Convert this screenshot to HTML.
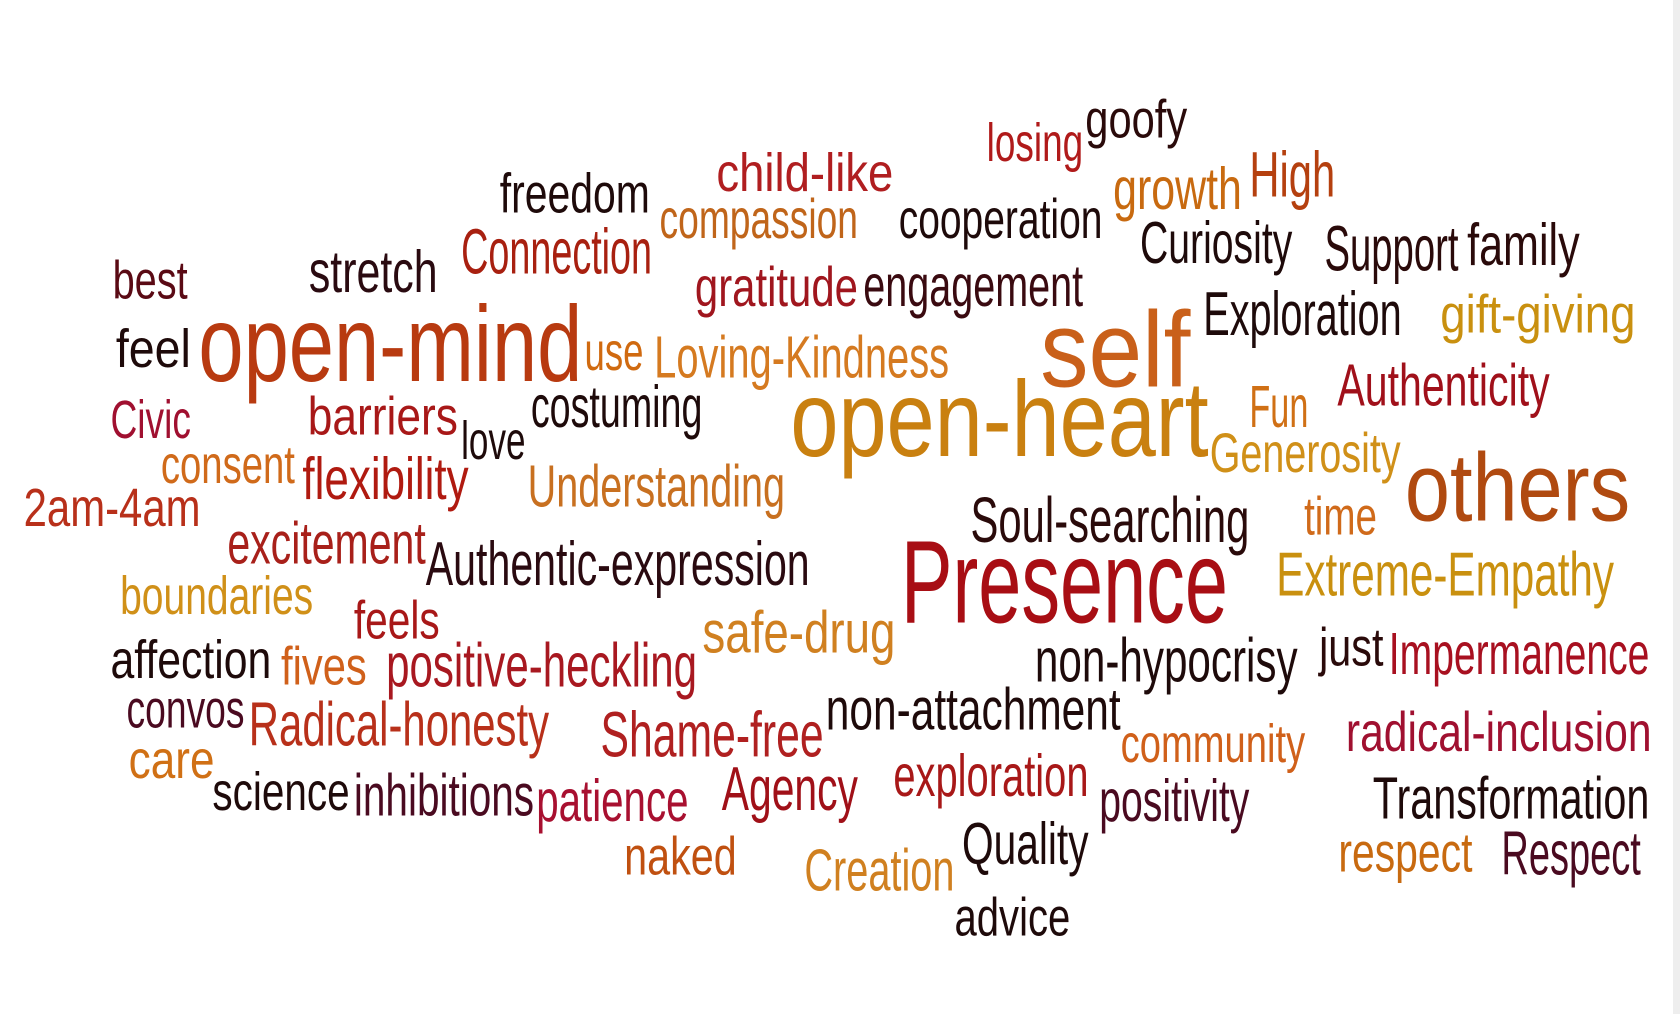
<!DOCTYPE html>
<html><head><meta charset="utf-8">
<style>
html,body{margin:0;padding:0;background:#fff;width:1680px;height:1014px;overflow:hidden}
#wrap{position:relative;width:1680px;height:1014px}
#edge{position:absolute;left:1673px;top:0;width:7px;height:1014px;background:#eeeeee}
svg{position:absolute;left:0;top:0}
text{font-family:"Liberation Sans Narrow","Liberation Sans",sans-serif;}
</style></head>
<body>
<div id="wrap">
<svg id="cloud" width="1673" height="1014" viewBox="0 0 1560 945" preserveAspectRatio="none"></svg>
<div id="edge"></div>
</div>
<script>
const words=["losing","goofy","child-like","High","freedom","compassion","cooperation","growth","Connection","Curiosity","Support","family","best","stretch","gratitude","engagement","Exploration","gift-giving","open-mind","feel","use","Loving-Kindness","self","Civic","barriers","costuming","Fun","Authenticity","open-heart","consent","love","flexibility","Understanding","Generosity","others","2am-4am","Soul-searching","time","excitement","Authentic-expression","Presence","Extreme-Empathy","boundaries","feels","safe-drug","affection","fives","positive-heckling","non-hypocrisy","just","Impermanence","convos","Radical-honesty","Shame-free","non-attachment","community","radical-inclusion","care","science","inhibitions","patience","Agency","exploration","positivity","Transformation","naked","Creation","Quality","respect","Respect","advice"];
const layout=[
[920,150,90,50,"#b01a1a"],[1012,128,95,50,"#2a0a0a"],[668,178,165,50,"#b01e20"],[1165,183,80,60,"#b5400f"],
[466,198,140,52,"#1e0a0a"],[615,222,185,52,"#c0651a"],[838,222,190,52,"#1e0a0a"],[1038,195,120,55,"#c86a10"],
[430,255,178,60,"#a82010"],[1063,245,142,55,"#1e0a0a"],[1235,252,125,60,"#2a0a0a"],[1368,247,105,55,"#2a0a0a"],
[105,278,70,50,"#5a0a14"],[288,272,120,55,"#2a0a10"],[648,285,152,52,"#a0161e"],[805,285,205,55,"#3a0a10"],
[1122,312,185,58,"#1e0a0a"],[1343,310,182,50,"#c9900f"],[185,355,358,100,"#b83a10"],[108,342,70,50,"#1e0a0a"],
[545,345,55,50,"#d06a10"],[610,352,275,55,"#d57a20"],[970,360,140,100,"#c9601a"],[103,408,75,50,"#a01030"],
[287,405,140,50,"#a81818"],[495,398,160,55,"#1e0a0a"],[1165,398,55,55,"#d07015"],[1247,378,198,55,"#a0101a"],
[737,425,390,100,"#c98010"],[150,450,125,50,"#d06a1a"],[430,428,60,50,"#1e0a0a"],[282,465,155,55,"#b01a10"],
[492,472,240,55,"#c87020"],[1128,440,178,52,"#d09018"],[1310,485,210,90,"#b04a10"],[22,490,165,50,"#b8301a"],
[905,505,260,60,"#2a0a0a"],[1216,498,68,50,"#d06a1a"],[212,525,185,55,"#a8201a"],[397,545,358,58,"#2a0a10"],
[840,580,305,110,"#a80e14"],[1190,555,315,58,"#c9900f"],[112,572,180,50,"#d09018"],[330,595,80,50,"#a81818"],
[655,608,180,55,"#d08020"],[103,632,150,50,"#1e0a0a"],[262,638,80,50,"#d0601a"],[360,640,290,58,"#a81820"],
[965,635,245,58,"#1e0a0a"],[1230,620,60,50,"#2a0a0a"],[1295,628,243,55,"#a81020"],[118,678,110,50,"#4a0a20"],
[232,695,280,58,"#b8301a"],[560,705,208,60,"#b02020"],[770,680,275,55,"#1e0a0a"],[1045,710,172,50,"#d0601a"],
[1255,700,285,52,"#a01030"],[120,725,80,50,"#d07015"],[198,755,128,50,"#1e0a0a"],[330,760,168,55,"#4a0a20"],
[500,765,142,55,"#a81030"],[673,755,127,58,"#a01018"],[833,742,182,55,"#a81818"],[1025,765,140,55,"#4a0a20"],
[1280,763,258,55,"#1e0a0a"],[582,815,105,50,"#c05010"],[750,830,140,55,"#d08020"],[897,805,118,55,"#1e0a0a"],
[1248,812,125,52,"#c86a10"],[1400,815,130,58,"#4a0a20"],[890,872,108,50,"#1e0a0a"]];
const svg=document.getElementById('cloud');
const NS="http://www.w3.org/2000/svg";
words.forEach((w,i)=>{
  const p=layout[i];
  const t=document.createElementNS(NS,'text');
  t.setAttribute('x',p[0]);
  t.setAttribute('y',p[1]);
  t.setAttribute('font-size',p[3]);
  t.setAttribute('fill',p[4]);
  t.setAttribute('textLength',p[2]);
  t.setAttribute('lengthAdjust','spacingAndGlyphs');
  t.textContent=w;
  
  
  svg.appendChild(t);
});
</script>
</body></html>
